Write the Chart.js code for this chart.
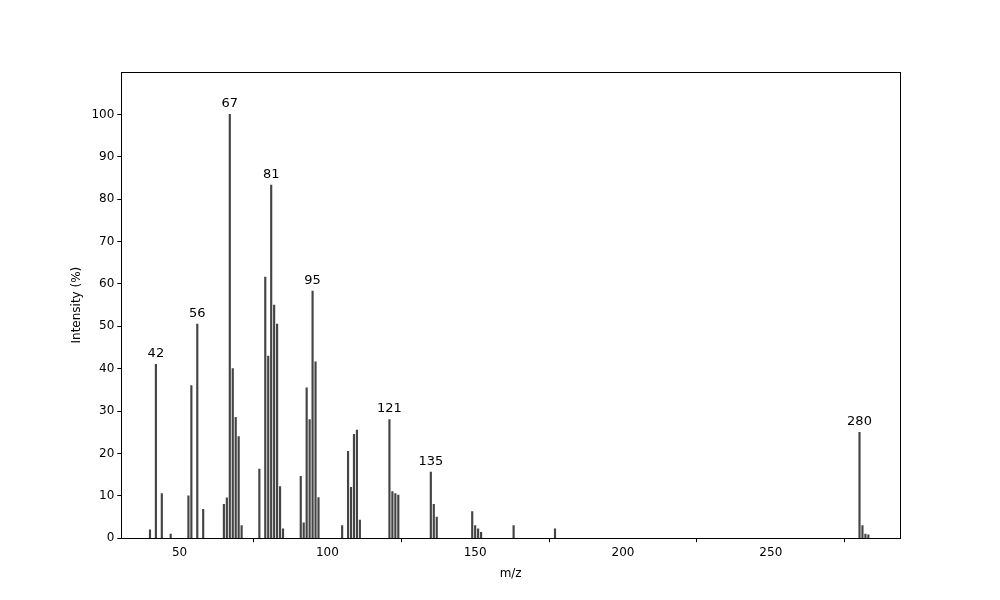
<!DOCTYPE html>
<html><head><script src="https://cdn.jsdelivr.net/npm/chart.js@4"></script>
<style>body{margin:0;background:#fff}</style></head><body>
<canvas id="c" width="1000" height="600"></canvas>
<script>
const mz = [40,42,44,47,53,54,56,58,65,66,67,68,69,70,71,77,79,80,81,82,83,84,85,91,92,93,94,95,96,97,105,107,108,109,110,111,121,122,123,124,135,136,137,149,150,151,152,163,177,280,281,282,283];
const intensity = [2,41,10.5,1,10,36,50.5,6.8,8,9.5,100,40,28.5,24,3,16.3,61.6,43,83.3,55,50.5,12.2,2.2,14.6,3.6,35.5,28,58.3,41.6,9.6,3,20.5,12,24.5,25.5,4.3,28,11,10.5,10.2,15.6,8,5,6.3,3,2.2,1.4,3,2.2,25,3,1,0.8];
const labeledPeaks = [42,56,67,81,95,121,135,280];
const yTicks = [0,10,20,30,40,50,60,70,80,90,100];
const xTicks = [50,100,150,200,250];

const labelPlugin = {
  id:'peaks',
  afterDatasetsDraw(chart){
    const {ctx, scales:{x,y}, chartArea:a} = chart;
    ctx.save();
    ctx.strokeStyle='#000'; ctx.lineWidth=1;
    ctx.strokeRect(Math.round(a.left)+0.5, Math.round(a.top)+0.5, Math.round(a.right-a.left), Math.round(a.bottom-a.top));
    ctx.fillStyle='#000'; ctx.font='13px "DejaVu Sans"'; ctx.textAlign='center'; ctx.textBaseline='bottom';
    labeledPeaks.forEach(p=>{
      const i = mz.indexOf(p);
      ctx.fillText(String(p), x.getPixelForValue(p), y.getPixelForValue(intensity[i]) - 4);
    });
    ctx.restore();
  }
};

new Chart(document.getElementById('c'), {
  type:'bar',
  data:{datasets:[{data: mz.map((m,i)=>({x:m,y:intensity[i]})), backgroundColor:'#444', barThickness:1.5}]},
  options:{
    responsive:false, animation:false,
    layout:{padding:{left:66,right:100,top:72,bottom:15}},
    plugins:{legend:{display:false}, tooltip:{enabled:false}},
    scales:{
      x:{type:'linear', offset:false, min:30.3, max:293.7,
         grid:{display:true, drawOnChartArea:false, drawTicks:true, tickLength:4, color:'#000'},
         border:{display:false},
         afterBuildTicks(s){s.ticks = xTicks.map(v=>({value:v}));},
         ticks:{color:'#000', font:{family:'DejaVu Sans', size:12}, maxRotation:0},
         title:{display:true, text:'m/z', color:'#000', font:{family:'DejaVu Sans', size:12}}},
      y:{min:0, max:110,
         grid:{display:true, drawOnChartArea:false, drawTicks:true, tickLength:4, color:'#000'},
         border:{display:false},
         afterBuildTicks(s){s.ticks = yTicks.map(v=>({value:v}));},
         ticks:{color:'#000', font:{family:'DejaVu Sans', size:12}},
         title:{display:true, text:'Intensity (%)', color:'#000', font:{family:'DejaVu Sans', size:12}}}
    }
  },
  plugins:[labelPlugin]
});
</script></body></html>
